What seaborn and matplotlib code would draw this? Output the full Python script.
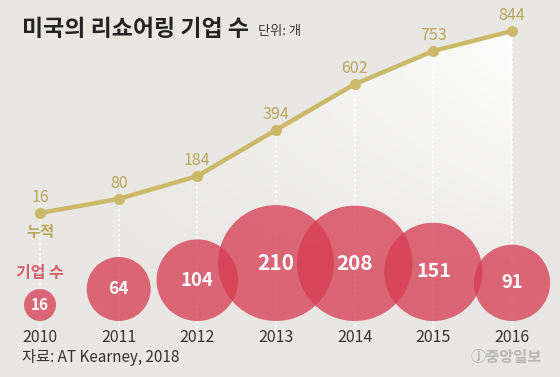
import numpy as np
import pandas as pd
import matplotlib
matplotlib.use('Agg')
import matplotlib.pyplot as plt
from matplotlib.path import Path
from matplotlib.patches import PathPatch
import seaborn as sns

# Data
years = [2010, 2011, 2012, 2013, 2014, 2015, 2016]
cumulative = [16, 80, 184, 394, 602, 753, 844]
yearly = [16, 64, 104, 210, 208, 151, 91]

title = '미국의 리쇼어링 기업 수'
unit = '단위: 개'
source = '자료: AT Kearney, 2018'

BG = '#e8e7e3'
GOLD = '#cbb869'
GOLD_TXT = '#b9a55b'
RED = '#d63c52'

sns.set_theme(style='white')
plt.rcParams['font.family'] = ['Noto Sans CJK KR', 'DejaVu Sans']

W, H = 560, 377
fig = plt.figure(figsize=(W / 100, H / 100), dpi=100)
fig.patch.set_facecolor(BG)

# x scale shared by both layers: one year = 78.67 px, 2010 at px 40
px_per_year = 78.67
xlim = (2010 - 40 / px_per_year, 2010 + (W - 40) / px_per_year)
ylim = (-730, 985)

df = pd.DataFrame({'year': years, 'cum': cumulative, 'new': yearly})

# line layer (behind)
ax = fig.add_axes([0, 0, 1, 1])
ax.set_facecolor(BG)

# white gradient under the cumulative line
gx = np.linspace(0, 1, 300)
gy = np.linspace(0, 1, 200)
alpha = (gx[None, :] ** 1.2) * (gy[:, None] ** 0.6)
img = np.ones((200, 300, 4))
img[..., 3] = alpha * 0.97
bottom_val = -250
im = ax.imshow(img, extent=(years[0], years[-1], bottom_val, max(cumulative)),
               origin='lower', aspect='auto', zorder=1, interpolation='bilinear')
verts = [(years[0], bottom_val)] + list(zip(years, cumulative)) + [(years[-1], bottom_val)]
clip = PathPatch(Path(verts + [verts[0]]), transform=ax.transData,
                 facecolor='none', edgecolor='none')
ax.add_patch(clip)
im.set_clip_path(clip)

# dotted white guides from each point down to the year labels
for yr, c in zip(years, cumulative):
    ax.plot([yr, yr], [c, -532], color='white', lw=1.2, ls=(0, (1.5, 1.5)),
            alpha=0.9, zorder=2)

# cumulative line
sns.lineplot(data=df, x='year', y='cum', color=GOLD, lw=3.2, marker='o',
             markersize=8, markeredgewidth=0, ax=ax, zorder=4)
for yr, c in zip(years, cumulative):
    ax.annotate(str(c), (yr, c), xytext=(0, 5), textcoords='offset points',
                ha='center', va='bottom', color=GOLD_TXT, fontsize=11.5, zorder=6)
ax.set_xlim(*xlim)
ax.set_ylim(*ylim)
ax.axis('off')

# bubble layer on top (pixel-like y units so circles stay round)
ax2 = fig.add_axes([0, 0, 1, 1])
ax2.patch.set_alpha(0)
base_px = 56
radius = 4 * np.sqrt(df['new'].to_numpy())
df['cy'] = base_px + radius
df['s'] = (2 * radius * 0.72) ** 2
sns.scatterplot(data=df, x='year', y='cy', s=df['s'], color=RED, alpha=0.76,
                edgecolor='none', ax=ax2, legend=False, zorder=3)
for yr, cy, v in zip(years, df['cy'], yearly):
    fs = 11 + 4 * (np.sqrt(v) - 4) / (np.sqrt(210) - 4)
    ax2.text(yr, cy, str(v), color='white', fontsize=fs, fontweight='bold',
             ha='center', va='center', zorder=5)
for yr in years:
    ax2.text(yr, H - 337, str(yr), fontsize=11.5, fontweight='light',
             color='#333333', ha='center', va='center')
ax2.set_xlim(*xlim)
ax2.set_ylim(0, H)
ax2.axis('off')

# texts
fig.text(22 / W, 1 - 30 / H, title, fontsize=16.5, fontweight='black',
         color='#222222', ha='left', va='center')
fig.text(258 / W, 1 - 32 / H, unit, fontsize=9.5, color='#333333',
         ha='left', va='center')
fig.text(40 / W, 1 - 232 / H, '누적', fontsize=11, fontweight='bold',
         color=GOLD_TXT, ha='center', va='center')
fig.text(40 / W, 1 - 273 / H, '기업 수', fontsize=11.5, fontweight='bold',
         color='#d5606c', ha='center', va='center')
fig.text(22 / W, 1 - 357 / H, source, fontsize=11, fontweight='light',
         color='#333333', ha='left', va='center')
fig.text(542 / W, 1 - 357 / H, 'ⓙ중앙일보', fontsize=11, fontweight='bold',
         color='#b5b5b5', ha='right', va='center')

fig.savefig('out.png', dpi=100, facecolor=BG)
